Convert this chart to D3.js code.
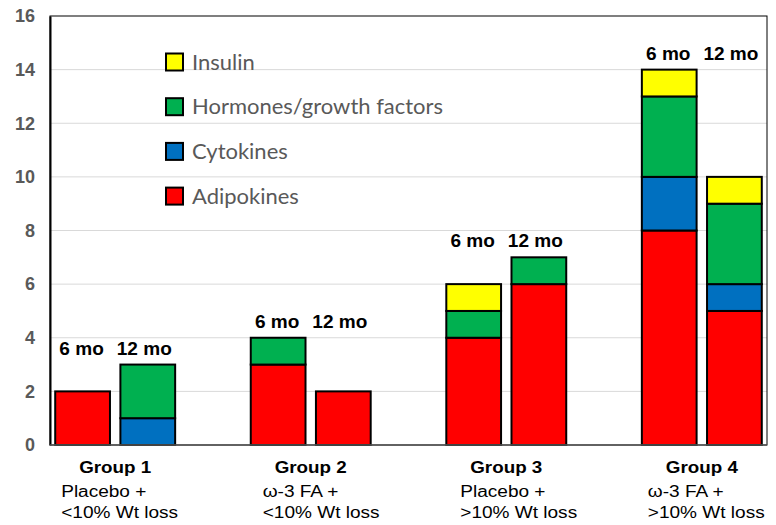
<!DOCTYPE html>
<html>
<head>
<meta charset="utf-8">
<script src="https://cdn.jsdelivr.net/npm/d3@7"></script>
<style>
  html, body { margin: 0; padding: 0; background: #fff; }
  svg { display: block; }
</style>
</head>
<body>
<svg class="Chart"></svg>
<script>
/* Chart values */
const groups = ["Group 1", "Group 2", "Group 3", "Group 4"];
const groupLine1 = ["Placebo +", "ω-3 FA +", "Placebo +", "ω-3 FA +"];
const groupLine2 = ["<10% Wt loss", "<10% Wt loss", ">10% Wt loss", ">10% Wt loss"];
const timepoints = ["6 mo", "12 mo"];
const series = ["Adipokines", "Cytokines", "Hormones/growth factors", "Insulin"];
// one value per bar: G1 6mo, G1 12mo, G2 6mo, G2 12mo, ...
const adipokines = [2, 0, 3, 2, 4, 6, 8, 5];
const cytokines = [0, 1, 0, 0, 0, 0, 2, 1];
const hormones = [0, 2, 1, 0, 1, 1, 3, 3];
const insulin = [0, 0, 0, 0, 1, 0, 1, 1];
const yTicks = [0, 2, 4, 6, 8, 10, 12, 14, 16];

// layout
const width = 776;
const height = 525;
const plot = { left: 50, right: 767, top: 16, bottom: 445 };
const colors = ["#ff0000", "#0070c0", "#00b050", "#ffff00"];
const subDx = [-54, -48, -46, -54];
const timeDx = [-1, -3.5];

const svg = d3.select('.Chart')
  .attr('width', width)
  .attr('height', height);

// build the rows: one per bar
let rows = [];
groups.forEach((g, gi) => {
  timepoints.forEach((t, ti) => {
    let i = gi * 2 + ti;
    rows.push({
      key: gi + '-' + ti, group: gi, time: ti,
      Adipokines: adipokines[i],
      Cytokines: cytokines[i],
      'Hormones/growth factors': hormones[i],
      Insulin: insulin[i]
    });
  });
});

// slots: two bars per group and an empty slot in between
let slots = [];
groups.forEach((g, gi) => {
  if (gi > 0) slots.push('gap' + gi);
  slots.push(gi + '-0', gi + '-1');
});

const x = d3.scaleBand()
  .domain(slots)
  .range([plot.left, plot.right])
  .paddingInner(0.16)
  .paddingOuter(0.08);

const y = d3.scaleLinear()
  .domain([0, 16])
  .range([plot.bottom, plot.top]);

// gridlines
svg.append('g')
  .selectAll('line')
  .data(yTicks.filter(t => t > 0 && t < 16))
  .enter().append('line')
  .attr('x1', plot.left).attr('x2', plot.right)
  .attr('y1', d => y(d)).attr('y2', d => y(d))
  .attr('stroke', '#d9d9d9')
  .attr('stroke-width', 1);

// frame
svg.append('rect')
  .attr('x', plot.left).attr('y', plot.top)
  .attr('width', plot.right - plot.left)
  .attr('height', plot.bottom - plot.top)
  .attr('fill', 'none')
  .attr('stroke', '#000')
  .attr('stroke-width', 1);

// y axis
const yAxis = svg.append('g')
  .attr('transform', `translate(${plot.left},0)`)
  .call(d3.axisLeft(y).tickValues(yTicks).tickSize(0).tickPadding(15));
yAxis.select('.domain').attr('stroke', '#000').attr('stroke-width', 2);
yAxis.selectAll('text')
  .attr('fill', '#595959')
  .style('font-family', 'Liberation Sans, Arial, sans-serif')
  .style('font-size', '18px')
  .style('font-weight', 'bold');

// legend
const legend = svg.append('g');
series.slice().reverse().forEach((s, i) => {
  let cy = 62 + i * 44.7;
  legend.append('rect')
    .attr('x', 166).attr('y', cy - 8.5)
    .attr('width', 17).attr('height', 17)
    .attr('fill', colors[series.indexOf(s)])
    .attr('stroke', '#000')
    .attr('stroke-width', 2);
  legend.append('text')
    .attr('class', 'legend-label')
    .attr('transform', `translate(192,${cy + 7.5})`)
    .attr('fill', '#595959')
    .style('font-family', 'Lato, sans-serif')
    .style('font-size', '20.5px')
    .text(s);
});
// fit the widest legend label to the source width
let widest = 0;
legend.selectAll('.legend-label').each(function () {
  widest = Math.max(widest, this.getComputedTextLength());
});
let lscale = 251 / widest;
legend.selectAll('.legend-label').each(function () {
  let t = d3.select(this);
  t.attr('transform', t.attr('transform') + ` scale(${lscale},1)`);
});

// bars
const stack = d3.stack().keys(series);
const stacked = stack(rows);

svg.append('g')
  .selectAll('g')
  .data(stacked)
  .enter().append('g')
  .attr('fill', (d, i) => colors[i])
  .selectAll('rect')
  .data(d => d.filter(p => p[1] > p[0]))
  .enter().append('rect')
  .attr('x', d => x(d.data.key))
  .attr('y', d => y(d[1]))
  .attr('width', x.bandwidth())
  .attr('height', d => y(d[0]) - y(d[1]))
  .attr('stroke', '#000')
  .attr('stroke-width', 2);

// bottom axis line
svg.append('line')
  .attr('x1', plot.left).attr('x2', plot.right)
  .attr('y1', y(0)).attr('y2', y(0))
  .attr('stroke', '#595959')
  .attr('stroke-width', 1.5);

function stretchedText(parent, tx, ty, txt, anchor, size, weight, sx) {
  return parent.append('text')
    .attr('transform', `translate(${tx},${ty}) scale(${sx},1)`)
    .attr('text-anchor', anchor)
    .style('font-family', 'Liberation Sans, Arial, sans-serif')
    .style('font-size', size + 'px')
    .style('font-weight', weight)
    .attr('fill', '#000')
    .text(txt);
}

// time labels above each group, group names below
const labels = svg.append('g');
groups.forEach((g, gi) => {
  let groupRows = rows.filter(r => r.group === gi);
  let top = d3.max(groupRows, r => series.reduce((s, k) => s + r[k], 0));
  groupRows.forEach(r => {
    let cx = x(r.key) + x.bandwidth() / 2 + timeDx[r.time];
    stretchedText(labels, cx, y(top) - 10, timepoints[r.time], 'middle', 18.5, 'bold', 1.03);
  });

  let center = (x(gi + '-0') + x(gi + '-1') + x.bandwidth()) / 2;
  stretchedText(labels, center, 472.5, g, 'middle', 16.5, 'bold', 1.14);
  stretchedText(labels, center + subDx[gi], 497, groupLine1[gi], 'start', 16, 'normal', 1.19);
  stretchedText(labels, center + subDx[gi], 518, groupLine2[gi], 'start', 16, 'normal', 1.19);
});
</script>
</body>
</html>
